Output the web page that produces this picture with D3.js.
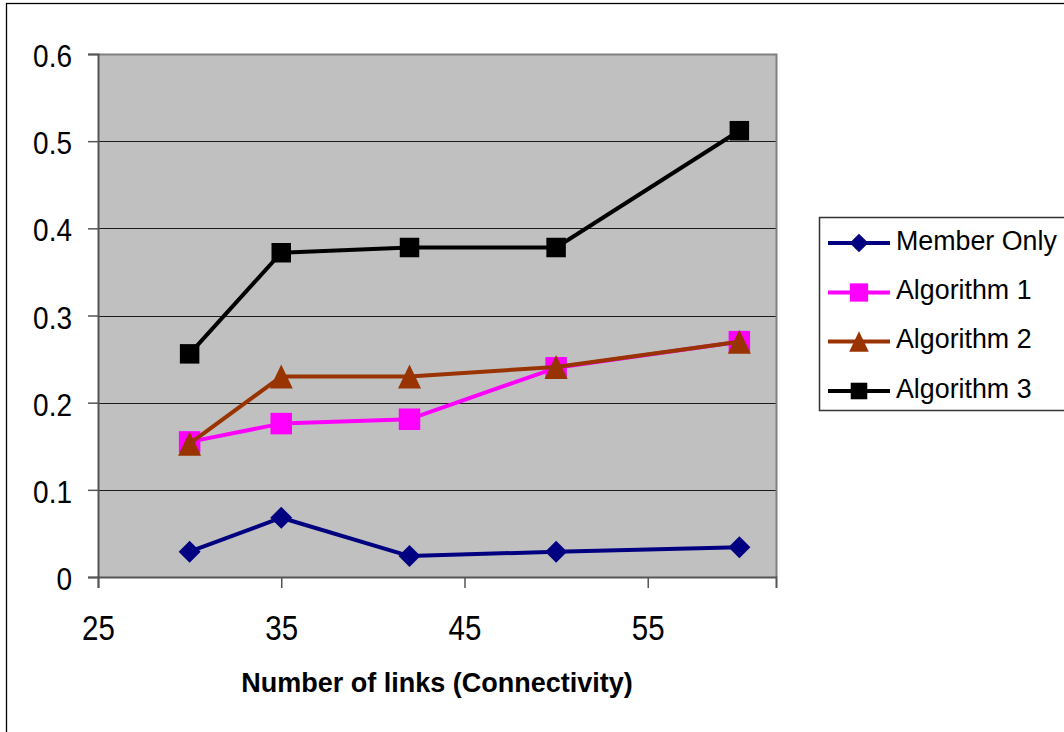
<!DOCTYPE html>
<html>
<head>
<meta charset="utf-8">
<script src="https://cdn.jsdelivr.net/npm/d3@7"></script>
<style>
  html, body { margin: 0; padding: 0; background: #fff; }
  svg { display: block; font-family: "Liberation Sans", Arial, sans-serif; }
</style>
</head>
<body>
<svg id="chart" width="1064" height="732"></svg>
<script>
// ---- data ----
const xValues = [30, 35, 42, 50, 60];
const memberOnly = [0.029, 0.068, 0.024, 0.029, 0.034];
const algorithm1 = [0.155, 0.176, 0.181, 0.240, 0.270];
const algorithm2 = [0.153, 0.230, 0.230, 0.241, 0.270];
const algorithm3 = [0.256, 0.372, 0.378, 0.378, 0.512];
const seriesNames = ["Member Only", "Algorithm 1", "Algorithm 2", "Algorithm 3"];
const xTicks = [25, 35, 45, 55];
const yTicks = [0, 0.1, 0.2, 0.3, 0.4, 0.5, 0.6];
const xTitle = "Number of links (Connectivity)";

const seriesStyle = [
  { color: "#000080", shape: "diamond", size: 22 },
  { color: "#FF00FF", shape: "square", size: 21.5 },
  { color: "#993300", shape: "triangle", size: 24 },
  { color: "#000000", shape: "square", size: 19.5 }
];
const seriesData = [memberOnly, algorithm1, algorithm2, algorithm3];

const svg = d3.select("#chart");

// outer frame
svg.append("rect").attr("x", 6.5).attr("y", 3.5).attr("width", 1100).attr("height", 800)
  .attr("fill", "#fff").attr("stroke", "#000").attr("stroke-width", 1.3);

const plot = { left: 98, top: 54, right: 776, bottom: 577 };
const x = d3.scaleLinear().domain([25, 62]).range([plot.left, plot.right]);
const y = d3.scaleLinear().domain([0, 0.6]).range([plot.bottom, plot.top]);

// plot background
svg.append("rect").attr("x", plot.left).attr("y", plot.top)
  .attr("width", plot.right - plot.left).attr("height", plot.bottom - plot.top)
  .attr("fill", "#C0C0C0");

// gridlines
svg.append("g").selectAll("line").data(yTicks.filter(d => d > 0 && d < 0.6)).join("line")
  .attr("x1", plot.left).attr("x2", plot.right)
  .attr("y1", d => Math.round(y(d)) + 0.5).attr("y2", d => Math.round(y(d)) + 0.5)
  .attr("stroke", "#1a1a1a").attr("stroke-width", 1.1);

// plot border top/right
svg.append("path")
  .attr("d", `M${plot.left},${plot.top + 0.5}H${plot.right + 0.5}V${plot.bottom}`)
  .attr("fill", "none").attr("stroke", "#808080").attr("stroke-width", 2);

// axes
const yAxis = d3.axisLeft(y).tickValues(yTicks).tickSize(10).tickPadding(15)
  .tickFormat(d => d === 0 ? "0" : d3.format(".1f")(d));
const gy = svg.append("g").attr("transform", `translate(${plot.left},0)`).call(yAxis);
gy.select(".domain").attr("stroke", "#555").attr("stroke-width", 2);
gy.selectAll(".tick line").attr("stroke", "#555").attr("stroke-width", 1.5);
gy.selectAll("text")
  .attr("font-size", 28).attr("fill", "#000").attr("font-family", "Liberation Sans, Arial, sans-serif")
  .attr("x", null).attr("dy", null).attr("y", 0)
  .attr("transform", "translate(-26,12.5) scale(1,1.1)");

const xAxis = d3.axisBottom(x).tickValues(xTicks).tickSize(11).tickPadding(27).tickFormat(d3.format("d"));
const gx = svg.append("g").attr("transform", `translate(0,${plot.bottom})`).call(xAxis);
gx.select(".domain").attr("stroke", "#555").attr("stroke-width", 2);
gx.selectAll(".tick line").attr("stroke", "#555").attr("stroke-width", 1.5);
gx.selectAll("text")
  .attr("font-size", 29.5).attr("fill", "#000").attr("font-family", "Liberation Sans, Arial, sans-serif")
  .attr("y", 0).attr("dy", null)
  .attr("transform", "translate(0,63) scale(1,1.18)");

// x title
svg.append("text").attr("x", (plot.left + plot.right) / 2).attr("y", 692)
  .attr("text-anchor", "middle").attr("font-size", 27).attr("font-weight", "bold")
  .text(xTitle);

function markerPath(shape, s) {
  const h = s / 2;
  if (shape === "diamond") return `M0,${-h}L${h},0L0,${h}L${-h},0Z`;
  if (shape === "square") return `M${-h},${-h}H${h}V${h}H${-h}Z`;
  if (shape === "triangle") return `M0,${-h}L${h * 0.96},${h}H${-h * 0.96}Z`;
}

const line = d3.line().x((d, i) => x(xValues[i])).y(d => y(d));

seriesData.forEach((vals, si) => {
  const st = seriesStyle[si];
  const g = svg.append("g");
  g.append("path").datum(vals).attr("d", line)
    .attr("fill", "none").attr("stroke", st.color).attr("stroke-width", 4)
    .attr("stroke-linejoin", "round");
  g.selectAll("path.m").data(vals).join("path").attr("class", "m")
    .attr("transform", (d, i) => `translate(${x(xValues[i])},${y(d)})`)
    .attr("d", markerPath(st.shape, st.size))
    .attr("fill", st.color);
});

// legend
const leg = svg.append("g");
leg.append("rect").attr("x", 819.5).attr("y", 217.5).attr("width", 300).attr("height", 193)
  .attr("fill", "#fff").attr("stroke", "#333").attr("stroke-width", 1.5);
const legY = [243, 292.5, 341.5, 391];
seriesNames.forEach((name, i) => {
  const st = seriesStyle[i];
  const row = leg.append("g").attr("transform", `translate(0,${legY[i]})`);
  row.append("line").attr("x1", 828).attr("x2", 890).attr("y1", 0).attr("y2", 0)
    .attr("stroke", st.color).attr("stroke-width", 4);
  row.append("path").attr("transform", `translate(859,0)`)
    .attr("d", markerPath(st.shape, st.size * 0.85)).attr("fill", st.color);
  row.append("text").attr("x", 896).attr("y", 6.5)
    .attr("font-size", 26.8).attr("fill", "#000").text(name);
});
</script>
</body>
</html>
